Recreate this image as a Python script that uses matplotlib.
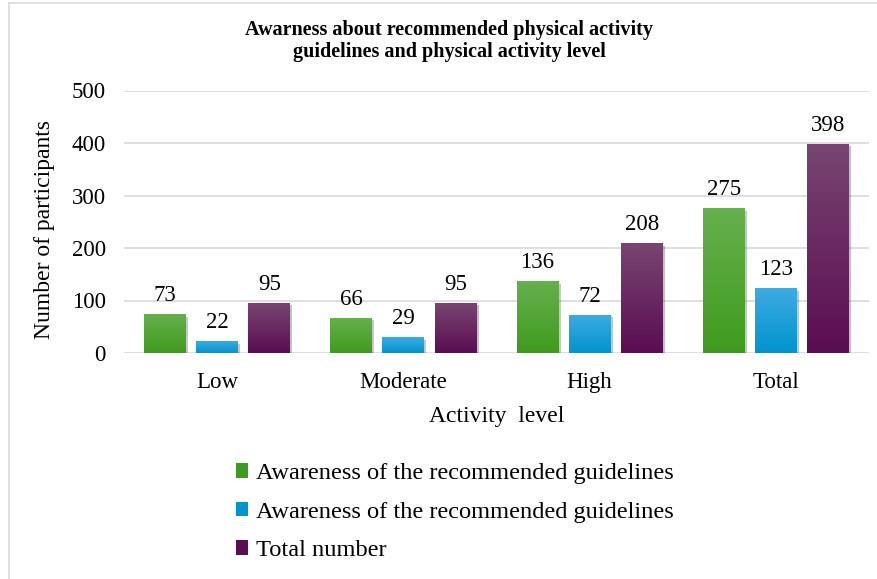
import matplotlib
matplotlib.use("Agg")
import matplotlib.pyplot as plt
import matplotlib.patheffects as pe
from matplotlib.lines import Line2D
from matplotlib.patches import Patch
import numpy as np

plt.rcParams['font.family'] = ['Liberation Serif', 'DejaVu Serif']

categories = ['Low', 'Moderate', 'High', 'Total']
aware_green = [73, 66, 136, 275]
aware_blue = [22, 29, 72, 123]
total_number = [95, 95, 208, 398]
series_labels = ['Awareness of the recommended guidelines',
                 'Awareness of the recommended guidelines',
                 'Total number']
yticks = [0, 100, 200, 300, 400, 500]

# top / bottom colours of the gradient fills
grad_colors = [('#66b04d', '#3f9b1e'), ('#3eaae2', '#0094cf'), ('#784570', '#5a0d52')]

W, H = 878, 579
fig = plt.figure(figsize=(W / 100, H / 100), dpi=100)
ax = fig.add_axes([124 / W, (H - 353) / H, (869 - 124) / W, (353 - 90.5) / H])

x = np.arange(len(categories))
bw = 0.225
step = 0.28
all_series = [aware_green, aware_blue, total_number]

for i, vals in enumerate(all_series):
    top, bot = grad_colors[i]
    bars = ax.bar(x + (i - 1) * step, vals, width=bw, color=bot, zorder=2,
                  path_effects=[pe.SimplePatchShadow(offset=(1.5, -1.5), alpha=0.25),
                                pe.Normal()])
    c1 = np.array(matplotlib.colors.to_rgb(top))
    c2 = np.array(matplotlib.colors.to_rgb(bot))
    t = np.linspace(0, 1, 64)[:, None]
    grad = (c1 * (1 - t) + c2 * t)[:, None, :]
    for b in bars:
        ax.imshow(grad, extent=[b.get_x(), b.get_x() + b.get_width(), 0, b.get_height()],
                  aspect='auto', zorder=3, interpolation='bilinear')
        ax.annotate(str(int(b.get_height())), (b.get_x() + b.get_width() / 2, b.get_height()),
                    xytext=(0, 6), textcoords='offset points', ha='center', va='bottom',
                    fontsize=16.5, zorder=4)

ax.set_xlim(-0.5, len(categories) - 0.5)
ax.set_ylim(0, 500)
ax.set_yticks(yticks)
ax.set_yticklabels([str(v) for v in yticks], fontsize=16.5)
ax.set_xticks(x)
ax.set_xticklabels(categories, fontsize=16.5)
ax.tick_params(length=0)
ax.tick_params(axis='x', pad=14)
ax.tick_params(axis='y', pad=13)
ax.grid(axis='y', color='#d9d9d9', linewidth=1.2, zorder=0)
ax.set_axisbelow(True)
for s in ax.spines.values():
    s.set_visible(False)

ax.set_xlabel('Activity  level', fontsize=17, labelpad=9)
ax.set_ylabel('Number of participants', fontsize=17, labelpad=12, y=0.47)

fig.text(449 / W, 1 - 41 / H, 'Awarness about recommended physical activity\nguidelines and physical activity level',
         ha='center', va='center', fontsize=14.5, fontweight='bold', linespacing=1.1)

handles = [Patch(facecolor=c[1]) for c in grad_colors]
fig.legend(handles, series_labels, loc='upper left', bbox_to_anchor=(214 / W, 1 - 441 / H),
           frameon=False, fontsize=17.6, handlelength=0.5, handleheight=0.55,
           handletextpad=0.3, labelspacing=0.72)

# partial frame (top and left) like the reference
fig.add_artist(Line2D([9 / W, 9 / W], [0, 1 - 3 / H], transform=fig.transFigure, color='#d9d9d9', lw=1.2))
fig.add_artist(Line2D([9 / W, 1], [1 - 3 / H, 1 - 3 / H], transform=fig.transFigure, color='#d9d9d9', lw=1.2))

fig.savefig('out.png', dpi=100)
